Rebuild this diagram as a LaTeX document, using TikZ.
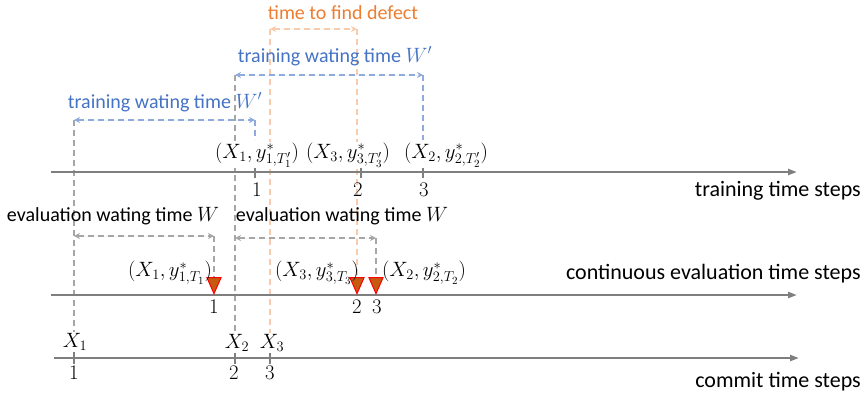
\documentclass[tikz,border=0pt]{standalone}
\usepackage{fontspec}
\setmainfont{Carlito}
\usetikzlibrary{arrows.meta,shapes.geometric}
\definecolor{axisgray}{HTML}{7F7F7F}
\definecolor{dgray}{HTML}{A6A6A6}
\definecolor{bluetxt}{HTML}{4472C4}
\definecolor{blueln}{HTML}{8FAADC}
\definecolor{orangetxt}{HTML}{ED7D31}
\definecolor{orangeln}{HTML}{F8CBAD}
\definecolor{markfill}{HTML}{C55A11}
\begin{document}
\begin{tikzpicture}[x=1pt,y=-1pt,
  axisline/.style={draw=axisgray,line width=2.2pt,-{Triangle[length=9pt,width=6pt]}},
  tickmark/.style={draw=axisgray,line width=1.6pt},
  guideline/.style={dash pattern={on 6pt off 4pt},line width=1.3pt},
  bracketline/.style={guideline,arrows={Stealth[length=6pt,width=6pt]-Stealth[length=6pt,width=6pt]}},
  ann/.style={font=\fontsize{20}{24}\selectfont,inner sep=0pt},
  axlab/.style={font=\fontsize{22}{26}\selectfont,inner sep=0pt,anchor=east},
  num/.style={font=\fontsize{20}{24}\selectfont,inner sep=0pt},
  pairlab/.style={font=\fontsize{21}{25}\selectfont,inner sep=1pt,fill=white},
  evmark/.style={isosceles triangle,isosceles triangle stretches,shape border rotate=270,
    minimum width=14pt,minimum height=16pt,inner sep=0pt,fill=markfill,draw=red,line width=1pt,anchor=apex}
]
\useasboundingbox (0,0) rectangle (867,392);

% axis coordinates
\coordinate (trS) at (51,172);  \coordinate (trE) at (797,172);
\coordinate (evS) at (51,295);  \coordinate (evE) at (797,295);
\coordinate (cmS) at (54,358);  \coordinate (cmE) at (799,358);
\coordinate (t1) at (255,172); \coordinate (t2) at (361,172); \coordinate (t3) at (423,172);
\coordinate (e1) at (214,295); \coordinate (e2) at (357,295); \coordinate (e3) at (376,295);
\coordinate (c1) at (74,358);  \coordinate (c2) at (235,358); \coordinate (c3) at (270,358);

% bracket end coordinates
\coordinate (oL) at (270,29);  \coordinate (oR) at (357,29);
\coordinate (wTL) at (235,75); \coordinate (wTR) at (423,75);
\coordinate (wBL) at (74,120); \coordinate (wBR) at (255,120);
\coordinate (eLL) at (74,236); \coordinate (eLR) at (214,236);
\coordinate (eUL) at (235,238); \coordinate (eUR) at (376,238);

% lower ends of the vertical guides
\coordinate (g1) at (74,332);  \coordinate (g2) at (235,333); \coordinate (g3) at (270,333);
\coordinate (b1) at (255,140); \coordinate (b3) at (423,140);
\coordinate (m1) at (214,280); \coordinate (m2) at (357,280); \coordinate (m3) at (376,280);

% vertical dashed guides
\draw[guideline,draw=dgray] (wBL) -- (g1);
\draw[guideline,draw=dgray] (wTL) -- (g2);
\draw[guideline,draw=orangeln] (oL) -- (g3);
\draw[guideline,draw=orangeln] (oR) -- (m2);
\draw[guideline,draw=blueln] (wBR) -- (b1);
\draw[guideline,draw=blueln] (wTR) -- (b3);
\draw[guideline,draw=dgray] (eLR) -- (m1);
\draw[guideline,draw=dgray] (eUR) -- (m3);

% brackets
\draw[bracketline,draw=orangeln,fill=orangeln] (oL) -- (oR);
\draw[bracketline,draw=blueln,fill=blueln] (wTL) -- (wTR);
\draw[bracketline,draw=blueln,fill=blueln] (wBL) -- (wBR);
\draw[bracketline,draw=dgray,fill=dgray] (eLL) -- (eLR);
\draw[bracketline,draw=dgray,fill=dgray] (eUL) -- (eUR);

% axes
\draw[axisline] (trS) -- (trE);
\draw[axisline] (evS) -- (evE);
\draw[axisline] (cmS) -- (cmE);

% ticks
\foreach \p in {t1,t2,t3,c1,c2,c3}
  \draw[tickmark] ([yshift=-6pt]\p) -- ([yshift=6pt]\p);

% markers
\node[evmark] (mk1) at (e1) {};
\node[evmark] (mk2) at (e2) {};
\node[evmark] (mk3) at (e3) {};

% bracket labels
\node[ann,text=orangetxt] (lfind) at (343,13) {time to find defect};
\node[ann,text=bluetxt] (lwt) at (335,56) {training wating time $W'$};
\node[ann,text=bluetxt] (lwb) at (165,102) {training wating time $W'$};
\node[ann] (lel) at (113,216) {evaluation wating time $W$};
\node[ann] (leu) at (342,216) {evaluation wating time $W$};

% pair labels on training axis
\node[pairlab] (p1) at (257,155) {$(X_1, y^*_{1,T'_1})$};
\node[pairlab] (p3) at (348,155) {$(X_3, y^*_{3,T'_3})$};
\node[pairlab] (p2) at (446,155) {$(X_2, y^*_{2,T'_2})$};

% pair labels on evaluation axis
\node[pairlab,fill=none] (q1) at (170,273) {$(X_1, y^*_{1,T_1})$};
\node[pairlab,fill=none] (q3) at (317,273) {$(X_3, y^*_{3,T_3})$};
\node[pairlab,fill=none] (q2) at (424,273) {$(X_2, y^*_{2,T_2})$};

% tick numbers
\node[num] (nt1) at (257,190) {$1$};
\node[num] (nt2) at (358,190) {$2$};
\node[num] (nt3) at (424,190) {$3$};
\node[num] (ne1) at (214,307) {$1$};
\node[num] (ne2) at (357,307) {$2$};
\node[num] (ne3) at (377,307) {$3$};
\node[num] (nc1) at (74,373) {$1$};
\node[num] (nc2) at (234,373) {$2$};
\node[num] (nc3) at (270,373) {$3$};

% commit labels
\node[num,fill=white,inner sep=1pt] (x1) at (75,342) {$X_1$};
\node[num,fill=white,inner sep=1pt] (x2) at (237,343) {$X_2$};
\node[num,fill=white,inner sep=1pt] (x3) at (272,343) {$X_3$};

% axis labels
\node[axlab] (ltr) at (861,191) {training time steps};
\node[axlab] (lev) at (861,274) {continuous evaluation time steps};
\node[axlab] (lcm) at (861,382) {commit time steps};
\end{tikzpicture}
\end{document}
